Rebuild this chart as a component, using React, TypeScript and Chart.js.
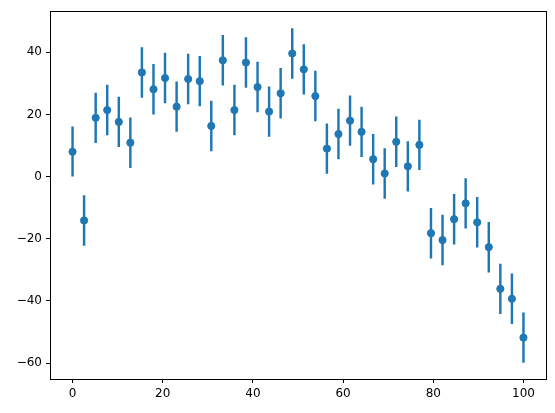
import React, { useEffect, useRef } from "react";
import { Chart, registerables } from "chart.js";

Chart.register(...registerables);

const xValues = [
  0, 2.56, 5.13, 7.69, 10.26, 12.82, 15.38, 17.95, 20.51, 23.08,
  25.64, 28.21, 30.77, 33.33, 35.9, 38.46, 41.03, 43.59, 46.15, 48.72,
  51.28, 53.85, 56.41, 58.97, 61.54, 64.1, 66.67, 69.23, 71.79, 74.36,
  76.92, 79.49, 82.05, 84.62, 87.18, 89.74, 92.31, 94.87, 97.44, 100,
];

const yValues = [
  8.0, -14.1, 18.9, 21.4, 17.6, 10.9, 33.5, 28.1, 31.7, 22.5,
  31.4, 30.7, 16.3, 37.4, 21.4, 36.7, 28.8, 20.9, 26.8, 39.6,
  34.5, 25.9, 9.0, 13.7, 18.0, 14.4, 5.6, 1.0, 11.2, 3.3,
  10.2, -18.2, -20.4, -13.7, -8.6, -14.7, -22.7, -36.1, -39.3, -51.8,
];

const yErrors = [
  8, 8, 8, 8, 8, 8, 8, 8, 8, 8,
  8, 8, 8, 8, 8, 8, 8, 8, 8, 8,
  8, 8, 8, 8, 8, 8, 8, 8, 8, 8,
  8, 8, 8, 8, 8, 8, 8, 8, 8, 8,
];

const xTicks = [0, 20, 40, 60, 80, 100];
const yTicks = [-60, -40, -20, 0, 20, 40];

const COLOR = "#1f77b4";

const framePlugin = {
  id: "frame",
  afterDatasetsDraw(chart: any) {
    const { ctx, chartArea } = chart;
    ctx.save();
    ctx.strokeStyle = "#000";
    ctx.lineWidth = 1;
    ctx.strokeRect(
      Math.round(chartArea.left) + 0.5,
      Math.round(chartArea.top) + 0.5,
      Math.round(chartArea.right - chartArea.left),
      Math.round(chartArea.bottom - chartArea.top)
    );
    ctx.restore();
  },
};

const fmt = (v: number) => (v < 0 ? "\u2212" + Math.abs(v) : String(v));

export default function App() {
  const ref = useRef<HTMLCanvasElement | null>(null);

  useEffect(() => {
    document.body.style.margin = "0";
    const canvas = ref.current;
    if (!canvas) return;
    const points = xValues.map((x, i) => ({ x, y: yValues[i] }));
    const bars = xValues.map((x, i) => ({
      x,
      y: [yValues[i] - yErrors[i], yValues[i] + yErrors[i]],
    }));
    const chart = new Chart(canvas, {
      type: "bar",
      data: {
        datasets: [
          {
            type: "scatter",
            data: points,
            backgroundColor: COLOR,
            borderColor: COLOR,
            borderWidth: 1,
            pointRadius: 3.6,
            pointHoverRadius: 3.6,
          } as any,
          {
            type: "bar",
            data: bars as any,
            backgroundColor: COLOR,
            borderWidth: 0,
            barThickness: 1.8,
            grouped: false,
          } as any,
        ],
      },
      options: {
        animation: false,
        responsive: false,
        events: [],
        layout: { padding: { top: 10, right: 9, left: 0, bottom: 0 } },
        plugins: { legend: { display: false }, tooltip: { enabled: false } },
        scales: {
          x: {
            type: "linear",
            min: -5,
            max: 105,
            offset: false,
            afterBuildTicks: (s: any) => {
              s.ticks = xTicks.map((v) => ({ value: v }));
            },
            afterFit: (s: any) => {
              s.height = 34;
            },
            border: { display: false },
            grid: {
              display: true,
              offset: false,
              drawOnChartArea: false,
              drawTicks: true,
              tickLength: 4,
              color: "#000",
              lineWidth: 1,
            },
            ticks: {
              color: "#000",
              padding: 4,
              maxRotation: 0,
              autoSkip: false,
              font: { family: "DejaVu Sans", size: 12 },
              callback: (v: any) => fmt(Number(v)),
            },
          },
          y: {
            type: "linear",
            min: -65.1,
            max: 53.2,
            afterBuildTicks: (s: any) => {
              s.ticks = yTicks.map((v) => ({ value: v }));
            },
            afterFit: (s: any) => {
              s.width = 50;
            },
            border: { display: false },
            grid: {
              display: true,
              drawOnChartArea: false,
              drawTicks: true,
              tickLength: 4,
              color: "#000",
              lineWidth: 1,
            },
            ticks: {
              color: "#000",
              padding: 4,
              autoSkip: false,
              font: { family: "DejaVu Sans", size: 12 },
              callback: (v: any) => fmt(Number(v)),
            },
          },
        },
      },
      plugins: [framePlugin],
    });
    return () => chart.destroy();
  }, []);

  return (
    <div style={{ position: "absolute", left: 0, top: 0, width: 555, height: 413 }}>
      <canvas ref={ref} width={555} height={413} style={{ display: "block" }} />
    </div>
  );
}
